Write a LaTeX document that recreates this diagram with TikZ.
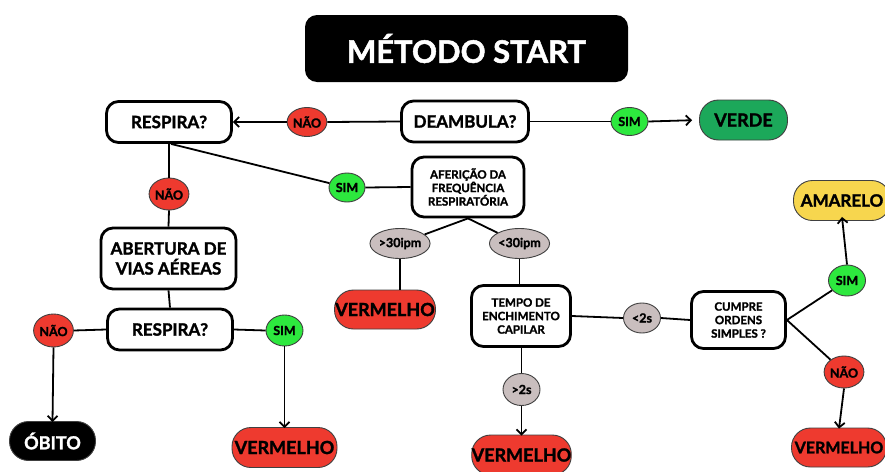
\documentclass[tikz,border=0pt]{standalone}
\usepackage{fontspec}
\setmainfont{Lato}[BoldFeatures={FakeBold=1.6}]
\usetikzlibrary{arrows.meta,shapes.geometric}
\definecolor{cred}{HTML}{EE3A2F}
\definecolor{cgreen}{HTML}{2DE83E}
\definecolor{cverde}{HTML}{1CA85A}
\definecolor{cgray}{HTML}{C9BEBE}
\definecolor{cyellow}{HTML}{F7D64E}
\tikzset{
  box/.style={draw, line width=2.8pt, rounded corners=12pt, fill=white, align=center, inner sep=0pt, font=\bfseries\fontsize{17}{19}\selectfont},
  smallbox/.style={box, font=\bfseries\fontsize{11.5}{13.5}\selectfont},
  tag/.style={ellipse, draw=black!75, line width=0.9pt, inner sep=0pt, font=\bfseries\fontsize{12.5}{13}\selectfont},
  redtag/.style={tag, fill=cred},
  greentag/.style={tag, fill=cgreen},
  graytag/.style={tag, fill=cgray},
  pill/.style={draw=black!75, line width=0.9pt, rounded corners=19pt, inner sep=0pt, font=\bfseries\fontsize{18}{20}\selectfont},
  link/.style={line width=1.8pt},
  arr/.style={line width=1.8pt, -{Straight Barb[length=5pt,width=10pt,line width=1.8pt]}},
}
\begin{document}
\begin{tikzpicture}[x=1pt,y=-1pt]
\useasboundingbox (0,0) rectangle (885,471);
\fill[white] (0,0) rectangle (885,471);
% title
\node[fill=black, rounded corners=12pt, minimum width=323pt, minimum height=67pt, inner sep=0pt, text=white, font=\bfseries\fontsize{31}{34}\selectfont] (title) at (466.5,48.5) {MÉTODO START};
% top row
\node[box, minimum width=127pt, minimum height=41pt] (deamb) at (465,121.5) {DEAMBULA?};
\node[redtag, minimum width=36pt, minimum height=29pt] (nao1) at (307,122) {NÃO};
\node[box, minimum width=125pt, minimum height=41pt] (resp1) at (169,122) {RESPIRA?};
\node[greentag, minimum width=37pt, minimum height=28pt] (sim1) at (629.5,121.5) {SIM};
\node[pill, fill=cverde, minimum width=88pt, minimum height=40pt] (verde) at (743.5,120) {VERDE};
% second level
\node[redtag, minimum width=36pt, minimum height=32pt] (nao2) at (169,194) {NÃO};
\node[greentag, minimum width=36pt, minimum height=29pt] (sim2) at (347,187.5) {SIM};
\node[smallbox, minimum width=112pt, minimum height=60pt] (afer) at (468,187) {AFERIÇÃO DA\\FREQUÊNCIA\\RESPIRATÓRIA};
\node[box, minimum width=135pt, minimum height=61pt, font=\bfseries\fontsize{17}{20}\selectfont] (abert) at (168.5,258.5) {ABERTURA DE\\VIAS AÉREAS};
\node[graytag, minimum width=51pt, minimum height=30pt] (gt30) at (400,243.5) {>30ipm};
\node[graytag, minimum width=51pt, minimum height=30pt] (lt30) at (519.5,243.5) {<30ipm};
\node[pill, fill=cred, minimum width=101pt, minimum height=39pt] (verm1) at (385,309.5) {VERMELHO};
% third level
\node[box, minimum width=125pt, minimum height=41pt] (resp2) at (170,329.5) {RESPIRA?};
\node[redtag, minimum width=37pt, minimum height=33pt] (nao3) at (53.5,330.5) {NÃO};
\node[greentag, minimum width=37pt, minimum height=31pt] (sim3) at (284.5,330.5) {SIM};
\node[pill, fill=black, text=white, minimum width=86pt, minimum height=39pt] (obito) at (52.5,441) {ÓBITO};
\node[pill, fill=cred, minimum width=105pt, minimum height=40pt] (verm2) at (284.5,447.5) {VERMELHO};
\node[smallbox, minimum width=99pt, minimum height=61pt] (tempo) at (521,316) {TEMPO DE\\ENCHIMENTO\\CAPILAR};
\node[graytag, minimum width=37pt, minimum height=30pt] (lt2s) at (642,318) {<2s};
\node[smallbox, minimum width=94pt, minimum height=57pt] (cumpre) at (738.5,320) {CUMPRE\\ORDENS\\SIMPLES ?};
\node[graytag, minimum width=37pt, minimum height=32pt] (gt2s) at (521.5,389.5) {>2s};
\node[pill, fill=cred, minimum width=99pt, minimum height=40pt] (verm3) at (521.5,455) {VERMELHO};
\node[greentag, minimum width=37pt, minimum height=31pt] (sim4) at (847,280.5) {SIM};
\node[pill, fill=cyellow, minimum width=97pt, minimum height=40pt, font=\bfseries\fontsize{17}{20}\selectfont] (amar) at (842,200.5) {AMARELO};
\node[redtag, minimum width=34pt, minimum height=32pt] (nao4) at (844,372) {NÃO};
\node[pill, fill=cred, minimum width=95pt, minimum height=39pt, font=\bfseries\fontsize{16}{20}\selectfont] (verm4) at (839,447.5) {VERMELHO};
% connectors
\draw[link] (deamb.west) -- (nao1.east);
\draw[arr] (nao1.west) -- (resp1.east);
\draw[link] (deamb.east) -- (sim1.west);
\draw[arr, shorten >=7pt] (sim1.east) -- (verde.west);
\draw[link] (resp1.south) -- (nao2.north);
\draw[link] (nao2.south) -- (abert.north);
\draw[link] ([xshift=2pt]resp1.south) -- (sim2);
\draw[link] (sim2.east) -- (afer.west);
\draw[link] (afer.south) -- (gt30);
\draw[link] (afer.south) -- (lt30);
\draw[link] (gt30.south) -- (verm1.north -| gt30.south);
\draw[link] (lt30.south) -- (tempo.north -| lt30.south);
\draw[link] (abert.south) -- (resp2.north);
\draw[link] (resp2.west) -- (nao3.east);
\draw[arr] (nao3.south) -- ([yshift=-1pt]obito.north);
\draw[link] (resp2.east) -- (sim3.west);
\draw[arr] (sim3.south) -- ([yshift=-1pt]verm2.north);
\draw[link] (tempo.east) -- (lt2s.west);
\draw[link] (lt2s.east) -- (cumpre.west);
\draw[link] (tempo.south -| gt2s.north) -- (gt2s.north);
\draw[arr] (gt2s.south) -- ([yshift=-1pt]verm3.north);
\draw[link] (cumpre.east) -- (sim4);
\draw[link] (cumpre.east) -- (nao4);
\draw[arr] (sim4.north) -- ([yshift=4pt]amar.south);
\draw[arr] (nao4.south) -- ([yshift=-1pt]verm4.north);
\end{tikzpicture}
\end{document}
